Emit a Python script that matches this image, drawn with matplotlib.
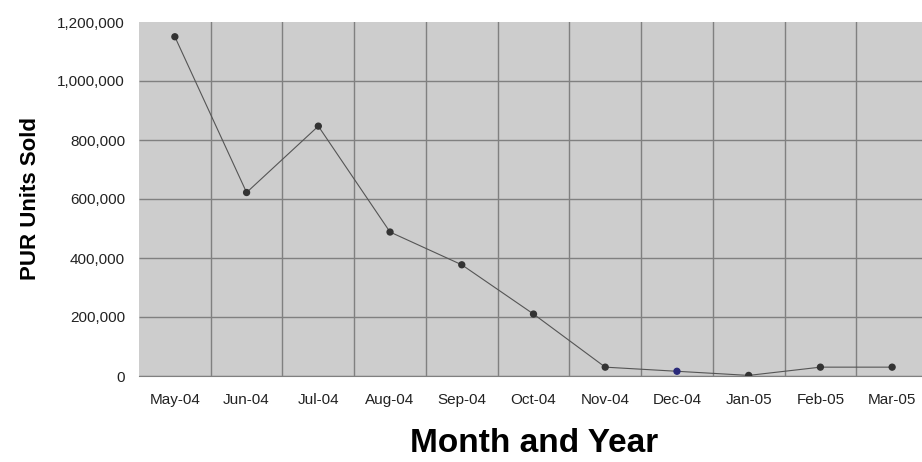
import matplotlib.pyplot as plt
from matplotlib.ticker import FuncFormatter

months = ["May-04", "Jun-04", "Jul-04", "Aug-04", "Sep-04", "Oct-04",
          "Nov-04", "Dec-04", "Jan-05", "Feb-05", "Mar-05"]
units_sold = [1150000, 622000, 847000, 488000, 377000, 210000,
              30000, 16000, 2000, 30000, 30000]
y_ticks = [0, 200000, 400000, 600000, 800000, 1000000, 1200000]

plt.rcParams["font.family"] = ["Liberation Sans", "DejaVu Sans"]

fig = plt.figure(figsize=(9.22, 4.62), dpi=100)
ax = fig.add_axes([139 / 922, 86 / 462, 789 / 922, 354 / 462])
ax.set_facecolor("#cdcdcd")

x = list(range(len(months)))
ax.plot(x, units_sold, color="#555555", linewidth=0.8, zorder=3)
colors = ["#333333"] * len(months)
colors[7] = "#2a2a7a"
ax.scatter(x, units_sold, s=18, c=colors, zorder=4)

ax.set_xlim(-0.5, len(months) - 0.5)
ax.set_ylim(y_ticks[0], y_ticks[-1])
ax.set_yticks(y_ticks)
ax.yaxis.set_major_formatter(FuncFormatter(lambda v, p: f"{int(v):,}"))
ax.set_xticks(x)
ax.set_xticklabels(months)
ax.set_xticks([i + 0.5 for i in x[:-1]], minor=True)

# horizontal grid everywhere except along the top edge
ax.hlines(y_ticks[:-1], 0, 1, transform=ax.get_yaxis_transform(),
          color="#808080", linewidth=1.0, zorder=1)
ax.grid(axis="x", which="minor", color="#808080", linewidth=1.0)
ax.set_axisbelow(True)

for side in ["top", "right", "left"]:
    ax.spines[side].set_visible(False)
ax.spines["bottom"].set_color("#808080")

ax.tick_params(axis="both", which="both", length=0, labelsize=11, colors="#222222")
ax.tick_params(axis="x", pad=12)
ax.tick_params(axis="y", pad=10)

ax.set_ylabel("PUR Units Sold", fontsize=16, fontweight="bold", labelpad=12)
fig.text(534 / 922, 1 - 443 / 462, "Month and Year", fontsize=24,
         fontweight="bold", ha="center", va="center")

fig.savefig("out.png", dpi=100)
